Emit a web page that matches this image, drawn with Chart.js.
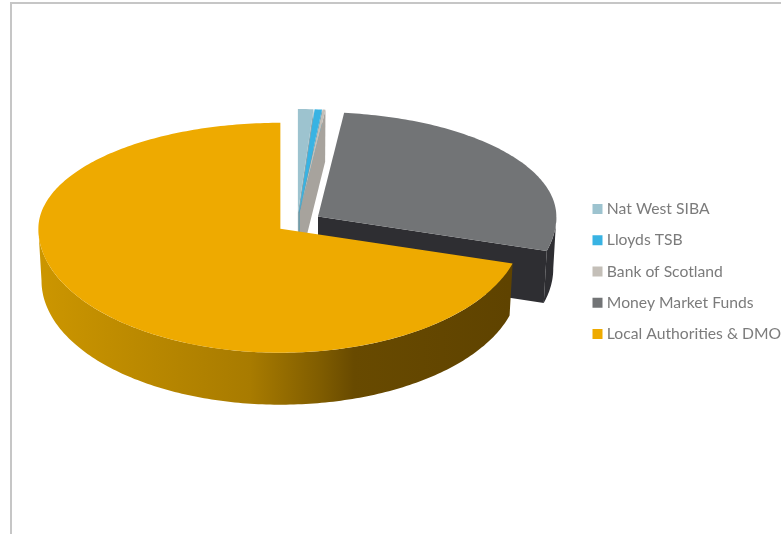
<!DOCTYPE html>
<html>
<head>
<meta charset="utf-8">
<script src="https://cdn.jsdelivr.net/npm/chart.js@4"></script>
<style>
  html, body { margin: 0; background: #fff; overflow: hidden; }
  #frame { position: absolute; left: 10px; top: 2px; width: 780px; height: 540px;
           border-top: 2px solid #c6c6c6; border-left: 2px solid #c6c6c6; pointer-events: none; }
  canvas { display: block; }
</style>
</head>
<body>
<canvas id="pie" width="781" height="534"></canvas>
<div id="frame"></div>
<script>
const categories = ['Nat West SIBA', 'Lloyds TSB', 'Bank of Scotland', 'Money Market Funds', 'Local Authorities & DMO'];
const shares = [1.05, 0.5, 0.2, 27.8, 70.5];

const topColors = ['#9dc3cf', '#38b3e3', '#c4bfb8', '#727476', '#eeaa00'];
const sideColors = ['#86a6b0', '#2c93bb', '#a7a39d', '#2e2e32', null];
const offsets = [88, 88, 88, 100, 84];
const radiusScale = [0.98, 0.98, 0.98, 0.985, 1];

const TILT_BACK = 0.438;
const TILT_FRONT = 0.512;
const TILT_MOVE = 0.46;
const DEPTH = 52;
const DEPTH_SHRINK = 0.987;

// projects a point of the arc element onto the tilted disc, z = 1 is the underside
function project(arc, i, angle, r, z) {
  const mid = (arc.startAngle + arc.endAngle) / 2;
  const move = offsets[i] / 4;
  const ax = arc.x + Math.cos(mid) * move;
  const ay = arc.y + Math.sin(mid) * move * TILT_MOVE;
  const s = Math.sin(angle);
  const k = s < 0 ? TILT_BACK : TILT_FRONT;
  return {
    x: ax + Math.cos(angle) * r * (z ? DEPTH_SHRINK : 1),
    y: ay + s * r * k + (z ? DEPTH : 0)
  };
}

function rimPoints(arc, i, from, to, r, z) {
  const pts = [];
  const steps = Math.max(2, Math.ceil((to - from) * 60));
  for (let n = 0; n <= steps; n++) {
    pts.push(project(arc, i, from + (to - from) * n / steps, r, z));
  }
  return pts;
}

function fillPoly(ctx, pts, fill) {
  ctx.beginPath();
  pts.forEach((p, n) => (n ? ctx.lineTo(p.x, p.y) : ctx.moveTo(p.x, p.y)));
  ctx.closePath();
  ctx.fillStyle = fill;
  ctx.fill();
}

const tiltedPie = {
  id: 'tiltedPie',
  afterLayout(chart) {
    // legend sits hard against the right edge, as in the original
    const legend = chart.legend;
    legend.left = 580.5;
    legend.right = 801;
    legend.top = 0;
    legend.bottom = 543;
  },
  beforeDatasetDraw(chart, args) {
    const ctx = chart.ctx;
    const arcs = chart.getDatasetMeta(args.index).data;
    const bronze = ctx.createLinearGradient(38, 0, 510, 0);
    bronze.addColorStop(0, '#cc9600');
    bronze.addColorStop(0.45, '#a87b00');
    bronze.addColorStop(0.6, '#7f5c00');
    bronze.addColorStop(0.67, '#684a00');
    bronze.addColorStop(1, '#5f4300');

    arcs.forEach((arc, i) => {
      const r = arc.outerRadius * radiusScale[i];
      const side = sideColors[i] || bronze;
      const start = arc.startAngle;
      const end = arc.endAngle;

      // cut face on the clockwise end of the slice
      if (end < Math.PI / 2 - 0.01 || end > Math.PI * 1.5 + 0.01) {
        const apex = project(arc, i, end, 0, 0);
        const apexLow = project(arc, i, end, 0, 1);
        const rim = project(arc, i, end, r, 0);
        const rimLow = project(arc, i, end, r, 1);
        fillPoly(ctx, [apex, rim, rimLow, apexLow], side);
      }

      // outer wall, only the front half of the disc shows
      const from = Math.max(start, 0);
      const to = Math.min(end, Math.PI);
      if (to > from) {
        const upper = rimPoints(arc, i, from, to, r, 0);
        const lower = rimPoints(arc, i, from, to, r, 1).reverse();
        fillPoly(ctx, upper.concat(lower), side);
      }

      // top surface
      const top = rimPoints(arc, i, start, end, r, 0);
      top.unshift(project(arc, i, start, 0, 0));
      fillPoly(ctx, top, arc.options.backgroundColor);
    });
    return false;
  }
};

new Chart(document.getElementById('pie'), {
  type: 'pie',
  data: {
    labels: categories,
    datasets: [{
      data: shares,
      backgroundColor: topColors,
      borderWidth: 0,
      offset: offsets
    }]
  },
  options: {
    responsive: false,
    animation: false,
    radius: 242,
    layout: { padding: { left: 24, right: 0, top: 0, bottom: 88 } },
    plugins: {
      tooltip: { enabled: false },
      legend: {
        position: 'right',
        labels: {
          usePointStyle: true,
          pointStyle: 'rect',
          boxWidth: 3,
          boxHeight: 10,
          padding: 15.5,
          color: '#7b7b7b',
          font: { family: 'Lato', size: 15.7 }
        }
      }
    }
  },
  plugins: [tiltedPie]
});
</script>
</body>
</html>
